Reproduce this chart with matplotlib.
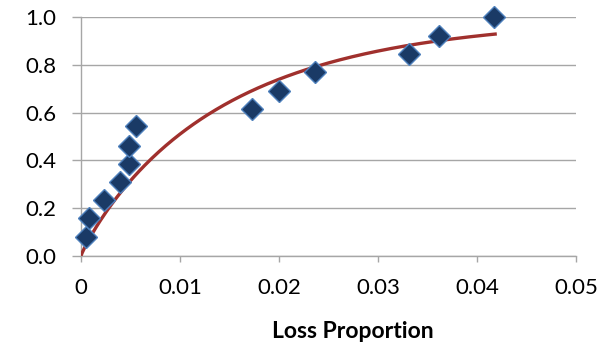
import numpy as np
import matplotlib
matplotlib.use("Agg")
import matplotlib.pyplot as plt

# Observed data points (Loss Proportion, cumulative value)
loss_prop = [0.00047, 0.00081, 0.00235, 0.00394, 0.00488, 0.00488, 0.00556,
             0.01724, 0.02003, 0.02364, 0.03316, 0.03616, 0.04175]
values = [0.080, 0.157, 0.234, 0.309, 0.385, 0.461, 0.544,
          0.614, 0.692, 0.769, 0.846, 0.922, 1.000]

# Fitted trendline parameters (Weibull-type curve)
fit_scale = 0.01446
fit_shape = 0.9167
fit_xmax = 0.0420

x_ticks = [0, 0.01, 0.02, 0.03, 0.04, 0.05]
x_tick_labels = ["0", "0.01", "0.02", "0.03", "0.04", "0.05"]
y_ticks = [0.0, 0.2, 0.4, 0.6, 0.8, 1.0]
y_tick_labels = ["0.0", "0.2", "0.4", "0.6", "0.8", "1.0"]
x_label = "Loss Proportion"

plt.rcParams['font.family'] = ['Lato', 'DejaVu Sans']

W, H = 601, 345
fig = plt.figure(figsize=(W / 100, H / 100), dpi=100)
left, right, top, bottom = 81, 576, 17.2, 255.7
ax = fig.add_axes([left / W, 1 - bottom / H, (right - left) / W, (bottom - top) / H])

xf = np.linspace(0, fit_xmax, 300)
yf = 1 - np.exp(-(xf / fit_scale) ** fit_shape)
ax.plot(xf, yf, color='#A0302D', lw=2.4, zorder=3, solid_capstyle='butt')

ax.plot(loss_prop, values, linestyle='none', marker='D', markersize=11,
        markerfacecolor='#1A3A66', markeredgecolor='#4F81BD',
        markeredgewidth=1.0, zorder=4, clip_on=False)

ax.set_xlim(0, 0.05)
ax.set_ylim(0, 1.0)
ax.set_xticks(x_ticks)
ax.set_xticklabels(x_tick_labels)
ax.set_yticks(y_ticks)
ax.set_yticklabels(y_tick_labels)

ax.grid(axis='y', color='#A6A6A6', lw=1.0)
ax.set_axisbelow(True)
for s in ['top', 'right']:
    ax.spines[s].set_visible(False)
for s in ['left', 'bottom']:
    ax.spines[s].set_color('#A6A6A6')
    ax.spines[s].set_linewidth(1.0)

ax.tick_params(axis='y', direction='out', length=6.5, width=1.0, color='#A6A6A6',
               labelsize=16, pad=11, labelcolor='black')
ax.tick_params(axis='x', direction='out', length=4, width=1.0, color='#A6A6A6',
               labelsize=16, pad=12, labelcolor='black')

fig.text(353 / W, 1 - 332 / H, x_label, fontsize=16.5, fontweight='bold',
         ha='center', va='center')

fig.savefig("out.png", dpi=100)
